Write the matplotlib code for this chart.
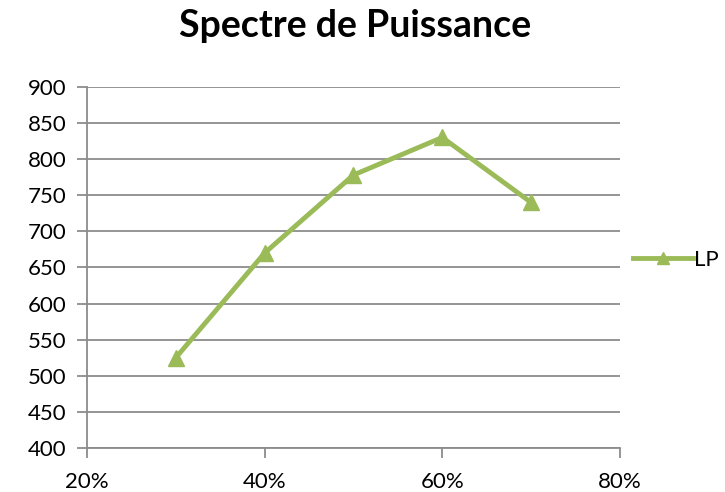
import matplotlib.pyplot as plt
from matplotlib.ticker import FuncFormatter, MultipleLocator

plt.rcParams['font.family'] = ['Lato', 'DejaVu Sans']

# data
rate = [0.30, 0.40, 0.50, 0.60, 0.70]
lp = [525, 670, 778, 830, 740]

green = '#9BBB59'
grid_grey = '#8C8C8C'

fig = plt.figure(figsize=(7.25, 4.92), dpi=100)
ax = fig.add_axes([0.12, 0.0894, 0.735, 0.734])

ax.plot(rate, lp, color=green, lw=3.5, marker='^', ms=11,
        markeredgecolor=green, label='LP', solid_joinstyle='miter', zorder=3)

ax.set_xlim(0.2, 0.8)
ax.set_ylim(400, 900)
ax.xaxis.set_major_locator(MultipleLocator(0.2))
ax.yaxis.set_major_locator(MultipleLocator(50))
ax.xaxis.set_major_formatter(FuncFormatter(lambda v, p: f'{v*100:.0f}%'))

ax.grid(axis='y', color=grid_grey, lw=1.3)
ax.set_axisbelow(True)
for s in ['top', 'right']:
    ax.spines[s].set_visible(False)
for s in ['left', 'bottom']:
    ax.spines[s].set_color(grid_grey)
    ax.spines[s].set_linewidth(1.3)

ax.tick_params(axis='both', colors=grid_grey, width=1.3, length=7,
               labelsize=16, labelcolor='black')
ax.tick_params(axis='x', pad=10)
ax.tick_params(axis='y', pad=8)

fig.text(0.49, 0.948, 'Spectre de Puissance', ha='center', va='center',
         fontsize=27, fontweight='bold')

ax.legend(loc='center left', bbox_to_anchor=(0.858, 0.472),
          bbox_transform=fig.transFigure, frameon=False, fontsize=16,
          handlelength=2.7, handletextpad=0.05, borderpad=0, markerscale=0.8)

fig.savefig('out.png', dpi=100)
